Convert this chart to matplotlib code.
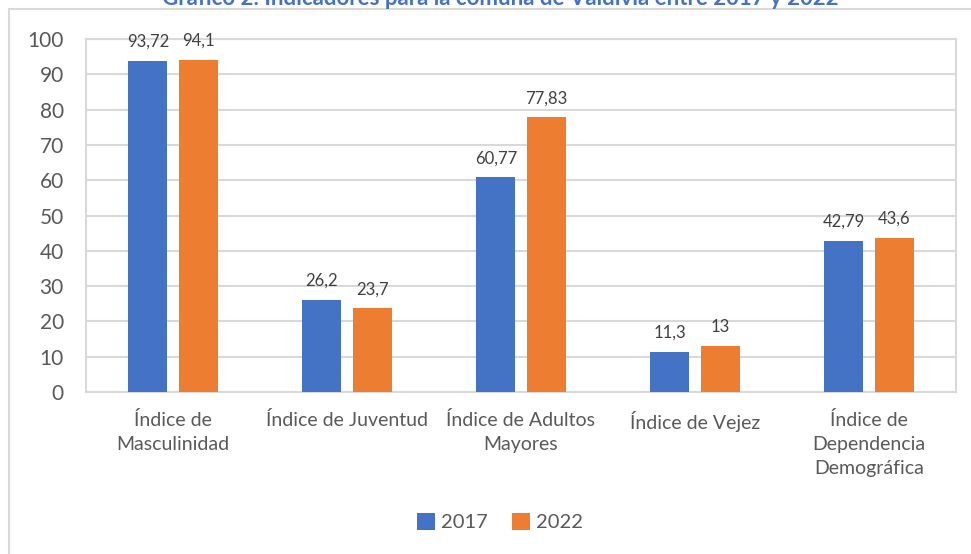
import matplotlib.pyplot as plt
import numpy as np
from matplotlib.patches import Rectangle

categorias = ["Índice de\nMasculinidad", "Índice de Juventud", "Índice de Adultos\nMayores",
              "Índice de Vejez", "Índice de\nDependencia\nDemográfica"]
v2017 = [93.72, 26.2, 60.77, 11.3, 42.79]
v2022 = [94.1, 23.7, 77.83, 13, 43.6]
etiquetas_2017 = ["93,72", "26,2", "60,77", "11,3", "42,79"]
etiquetas_2022 = ["94,1", "23,7", "77,83", "13", "43,6"]

azul = "#4472C4"
naranja = "#ED7D31"
gris = "#595959"

plt.rcParams['font.family'] = ['Lato', 'DejaVu Sans']

fig = plt.figure(figsize=(9.71, 5.54), dpi=100)
ax = fig.add_axes([86/971, 1-392/554, (956-86)/971, (392-39)/554])

x = np.arange(len(categorias))
w = 0.224
off = 0.144
b1 = ax.bar(x - off, v2017, w, color=azul, label="2017", zorder=3)
b2 = ax.bar(x + off, v2022, w, color=naranja, label="2022", zorder=3)

for rect, t in zip(b1, etiquetas_2017):
    ax.annotate(t, (rect.get_x() + rect.get_width()/2, rect.get_height()),
                xytext=(0, 8), textcoords="offset points", ha="center", va="bottom",
                fontsize=12, color="#404040")
for rect, t in zip(b2, etiquetas_2022):
    ax.annotate(t, (rect.get_x() + rect.get_width()/2, rect.get_height()),
                xytext=(0, 8), textcoords="offset points", ha="center", va="bottom",
                fontsize=12, color="#404040")

ax.set_xlim(-0.5, len(categorias) - 0.5)
ax.set_ylim(0, 100)
ax.set_yticks(range(0, 101, 10))
ax.set_xticks(x)
ax.set_xticklabels(categorias, fontsize=14, color=gris, linespacing=1.5)
ax.tick_params(axis='y', labelsize=15, colors=gris, length=0, pad=16)
ax.tick_params(axis='x', length=0, pad=14)
ax.grid(axis='y', color="#D9D9D9", linewidth=1.5, zorder=0)
for s in ax.spines.values():
    s.set_color("#D9D9D9")
    s.set_linewidth(1.5)

leg = fig.legend(handles=[b1, b2], loc="center", bbox_to_anchor=(500/971, 1-522/554),
                 ncol=2, frameon=False, fontsize=14.5, handlelength=0.9, handleheight=0.9,
                 handletextpad=0.3, columnspacing=1.2, labelcolor=gris)

# marco del gráfico
fig.patches.append(Rectangle((9/971, -0.1), 1.0, 1 - 9/554 + 0.1, transform=fig.transFigure,
                             fill=False, edgecolor="#D9D9D9", linewidth=1.5))

fig.text(500/971, 1 - 5/554, "Gráfico 2: Indicadores para la comuna de Valdivia entre 2017 y 2022",
         ha="center", va="baseline", fontsize=16, fontweight="bold", color=azul)

fig.savefig("out.png", dpi=100)
